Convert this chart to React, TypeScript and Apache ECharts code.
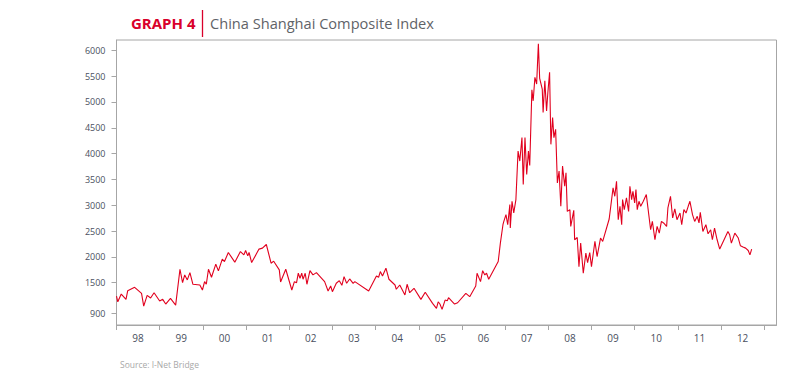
import React, { useEffect, useRef } from "react";
import * as echarts from "echarts";

// Time in decimal years, index level (weekly readings)
const TIMES: number[] = [
  1998.0, 1998.03, 1998.11, 1998.22, 1998.26, 1998.42, 1998.58, 1998.63, 1998.71, 1998.79, 1998.87,
  1999.0, 1999.07, 1999.14, 1999.25, 1999.37, 1999.47, 1999.53, 1999.58, 1999.64, 1999.7, 1999.77, 1999.93, 1999.99,
  2000.04, 2000.08, 2000.13, 2000.2, 2000.3, 2000.36, 2000.45, 2000.5, 2000.59, 2000.74, 2000.87, 2000.95, 2000.99,
  2001.04, 2001.07, 2001.13, 2001.3, 2001.38, 2001.47, 2001.58, 2001.64, 2001.77, 2001.8, 2001.92,
  2002.06, 2002.12, 2002.17, 2002.21, 2002.25, 2002.29, 2002.32, 2002.37, 2002.41, 2002.48, 2002.55, 2002.63, 2002.82, 2002.9, 2002.96,
  2003.0, 2003.09, 2003.16, 2003.22, 2003.27, 2003.33, 2003.4, 2003.48, 2003.52, 2003.84,
  2004.02, 2004.07, 2004.11, 2004.16, 2004.24, 2004.31, 2004.45, 2004.48, 2004.56, 2004.68, 2004.73, 2004.79, 2004.89,
  2005.05, 2005.15, 2005.32, 2005.41, 2005.45, 2005.49, 2005.54, 2005.61, 2005.66, 2005.69, 2005.78, 2005.83, 2005.9,
  2006.09, 2006.18, 2006.32, 2006.35, 2006.43, 2006.48, 2006.53, 2006.57, 2006.62, 2006.84, 2006.89, 2006.95, 2006.97,
  2007.02, 2007.06, 2007.11, 2007.12, 2007.16, 2007.2, 2007.25, 2007.3, 2007.34, 2007.39, 2007.42, 2007.46, 2007.5,
  2007.54, 2007.57, 2007.62, 2007.65, 2007.69, 2007.73, 2007.77, 2007.8, 2007.86, 2007.88, 2007.92, 2007.96, 2007.99,
  2008.03, 2008.06, 2008.1, 2008.13, 2008.17, 2008.21, 2008.25, 2008.29, 2008.33, 2008.38, 2008.41, 2008.44, 2008.5,
  2008.52, 2008.59, 2008.61, 2008.67, 2008.71, 2008.75, 2008.81, 2008.87, 2008.91, 2008.96,
  2009.0, 2009.08, 2009.13, 2009.21, 2009.26, 2009.41, 2009.5, 2009.54, 2009.58, 2009.62, 2009.66, 2009.7, 2009.72,
  2009.76, 2009.81, 2009.86, 2009.89, 2009.93, 2009.96,
  2010.0, 2010.03, 2010.06, 2010.1, 2010.14, 2010.2, 2010.27, 2010.37, 2010.41, 2010.47, 2010.52, 2010.57, 2010.62,
  2010.67, 2010.74, 2010.77, 2010.83, 2010.88, 2010.93, 2010.98,
  2011.05, 2011.09, 2011.14, 2011.19, 2011.24, 2011.28, 2011.34, 2011.39, 2011.45, 2011.49, 2011.52, 2011.58, 2011.65,
  2011.7, 2011.76, 2011.8, 2011.85, 2011.91, 2011.97,
  2012.16, 2012.2, 2012.24, 2012.32, 2012.4, 2012.45, 2012.51, 2012.57, 2012.63, 2012.67, 2012.71,
];

const INDEX_VALUES: number[] = [
  1241, 1130, 1280, 1177, 1344, 1410, 1294, 1047, 1255, 1202, 1305,
  1144, 1177, 1086, 1196, 1066, 1760, 1500, 1650, 1553, 1695, 1469, 1455, 1358,
  1520, 1469, 1760, 1605, 1858, 1728, 1955, 1909, 2084, 1897, 2103, 2039, 2123,
  2019, 2084, 1889, 2150, 2169, 2239, 1877, 1916, 1747, 1514, 1760,
  1358, 1520, 1500, 1683, 1585, 1683, 1566, 1683, 1469, 1733, 1650, 1695, 1520, 1339, 1436,
  1325, 1488, 1539, 1449, 1617, 1488, 1572, 1488, 1520, 1339,
  1630, 1605, 1714, 1630, 1780, 1566, 1455, 1372, 1455, 1261, 1469, 1305, 1391,
  1177, 1313, 1099, 1002, 1130, 1086, 983, 1163, 1150, 1208, 1130, 1086, 1111,
  1294, 1228, 1436, 1683, 1520, 1733, 1650, 1683, 1566, 1909, 2266, 2622, 2687,
  2817, 2622, 3012, 2558, 3076, 2850, 3109, 4049, 3855, 4309, 3401, 4309, 3595,
  4049, 3770, 5235, 5022, 5477, 5348, 6125, 5457, 5249, 4796, 5412, 4827, 5184,
  5574, 4179, 4698, 4309, 4471, 3433, 3660, 2979, 3757, 3368, 3628, 2881, 2914,
  2589, 2901, 2331, 2375, 1811, 2266, 1683, 2072, 1889, 2084,
  1811, 2300, 2006, 2364, 2298, 2733, 3337, 3173, 3465, 2720, 2979, 2622, 3109,
  2914, 3142, 2881, 3368, 3109, 3270,
  3045, 3303, 2914, 3076, 2979, 3076, 3206, 2525, 2687, 2331, 2589, 2460, 2687,
  2656, 2589, 2947, 3173, 2753, 2928, 2720,
  2850, 2622, 2914, 2850, 2979, 3076, 2817, 2687, 2784, 2656, 2862, 2492, 2622,
  2447, 2525, 2331, 2558, 2331, 2150,
  2492, 2428, 2266, 2460, 2364, 2214, 2189, 2169, 2123, 2039, 2150,
];

const Y_TICKS: number[] = [900, 1500, 2000, 2500, 3000, 3500, 4000, 4500, 5000, 5500, 6000];
const YEAR_TICKS: number[] = [1998, 1999, 2000, 2001, 2002, 2003, 2004, 2005, 2006, 2007, 2008, 2009, 2010, 2011, 2012, 2013];
const YEAR_LABELS: string[] = ["98", "99", "00", "01", "02", "03", "04", "05", "06", "07", "08", "09", "10", "11", "12"];

const TITLE_TAG = "GRAPH 4";
const TITLE_TEXT = "China Shanghai Composite Index";
const SOURCE_TEXT = "Source: I-Net Bridge";

export default function App() {
  const ref = useRef<HTMLDivElement>(null);

  useEffect(() => {
    if (!ref.current) return;
    const chart = echarts.init(ref.current, null, { renderer: "svg" });
    const labelPositions = YEAR_LABELS.map((_, i) => YEAR_TICKS[i] + 0.5);
    const axisGray = "#a6a6a6";
    const font = "'Open Sans', 'Noto Sans', sans-serif";

    chart.setOption({
      animation: false,
      backgroundColor: "#ffffff",
      grid: {
        left: 116.5,
        right: 26.5,
        top: 40,
        bottom: 55,
        show: true,
        borderColor: axisGray,
        borderWidth: 1,
        backgroundColor: "transparent",
      },
      xAxis: {
        type: "value",
        min: 1998,
        max: 2013.285,
        splitLine: { show: false },
        axisLine: { show: true, lineStyle: { color: axisGray, width: 1 } },
        axisTick: {
          show: true,
          length: 5,
          inside: false,
          customValues: YEAR_TICKS,
          lineStyle: { color: axisGray },
        },
        axisLabel: {
          customValues: labelPositions,
          formatter: (v: number) => {
            const i = Math.round(v - 0.5 - 1998);
            return YEAR_LABELS[i] ?? "";
          },
          color: "#4a5060",
          fontSize: 10,
          fontFamily: font,
          margin: 8,
        },
      },
      yAxis: {
        type: "value",
        min: 680,
        max: 6200,
        splitLine: { show: false },
        axisLine: { show: true, lineStyle: { color: axisGray, width: 1 } },
        axisTick: {
          show: true,
          length: 5,
          customValues: Y_TICKS,
          lineStyle: { color: axisGray },
        },
        axisLabel: {
          customValues: Y_TICKS,
          formatter: (v: number) => String(Math.round(v)),
          color: "#4a5060",
          fontSize: 9,
          fontFamily: font,
          margin: 11,
        },
      },
      series: [
        {
          type: "line",
          data: TIMES.map((t, i) => [t, INDEX_VALUES[i]]),
          showSymbol: false,
          symbol: "none",
          lineStyle: { color: "#e1001e", width: 1.1 },
          itemStyle: { color: "#e1001e" },
        },
      ],
      graphic: [
        {
          type: "text",
          x: 131,
          y: 23,
          style: {
            text: TITLE_TAG,
            font: `bold 15px ${font}`,
            fill: "#d9002b",
            verticalAlign: "middle",
          },
        },
        {
          type: "line",
          shape: { x1: 202.5, y1: 10, x2: 202.5, y2: 37 },
          style: { stroke: "#d9002b", lineWidth: 1.3 },
        },
        {
          type: "text",
          x: 210,
          y: 23,
          style: {
            text: TITLE_TEXT,
            font: `14.6px ${font}`,
            fill: "#5f6368",
            verticalAlign: "middle",
          },
        },
        {
          type: "text",
          x: 120,
          y: 364,
          style: {
            text: SOURCE_TEXT,
            font: `8.5px ${font}`,
            fill: "#a8a8a8",
            verticalAlign: "middle",
          },
        },
      ],
    });

    return () => chart.dispose();
  }, []);

  return (
    <div
      ref={ref}
      style={{ position: "fixed", left: 0, top: 0, width: 803, height: 380 }}
    />
  );
}
